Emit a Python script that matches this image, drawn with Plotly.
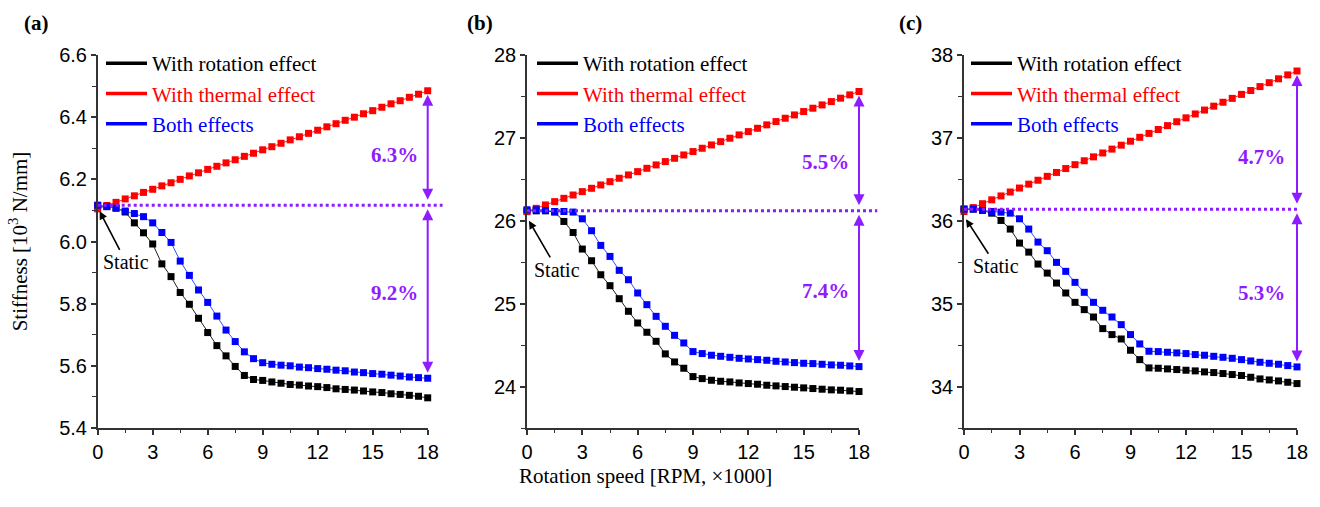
import plotly.graph_objects as go

# ---------------- data ----------------
speed_krpm = [0, 0.5, 1, 1.5, 2, 2.5, 3, 3.5, 4, 4.5, 5, 5.5, 6, 6.5, 7, 7.5, 8, 8.5, 9,
              9.5, 10, 10.5, 11, 11.5, 12, 12.5, 13, 13.5, 14, 14.5, 15, 15.5, 16, 16.5,
              17, 17.5, 18]

# panel (a)
a_rotation = [6.115, 6.113, 6.108, 6.095, 6.060, 6.028, 5.992, 5.928, 5.887, 5.836, 5.798,
              5.753, 5.707, 5.665, 5.632, 5.598, 5.569, 5.556, 5.553, 5.548, 5.544, 5.540,
              5.538, 5.535, 5.533, 5.530, 5.526, 5.524, 5.522, 5.519, 5.516, 5.514, 5.510,
              5.508, 5.505, 5.502, 5.497]
a_thermal = [6.105, 6.116, 6.126, 6.137, 6.147, 6.158, 6.168, 6.179, 6.189, 6.200, 6.211,
             6.221, 6.232, 6.242, 6.253, 6.263, 6.274, 6.284, 6.295, 6.305, 6.316, 6.327,
             6.337, 6.348, 6.358, 6.369, 6.379, 6.390, 6.400, 6.411, 6.421, 6.432, 6.443,
             6.453, 6.464, 6.474, 6.485]
a_both = [6.117, 6.112, 6.107, 6.098, 6.090, 6.080, 6.060, 6.029, 5.997, 5.937, 5.891,
          5.844, 5.804, 5.760, 5.715, 5.678, 5.645, 5.623, 5.610, 5.605, 5.602, 5.600,
          5.596, 5.594, 5.591, 5.589, 5.586, 5.584, 5.580, 5.578, 5.575, 5.573, 5.570,
          5.567, 5.564, 5.562, 5.560]

# panel (b)
b_rotation = [26.120, 26.120, 26.120, 26.105, 25.992, 25.859, 25.659, 25.518, 25.349, 25.217,
              25.060, 24.908, 24.767, 24.655, 24.546, 24.394, 24.297, 24.221, 24.120, 24.096,
              24.076, 24.064, 24.056, 24.044, 24.036, 24.028, 24.016, 24.008, 24.000, 23.992,
              23.984, 23.976, 23.968, 23.960, 23.956, 23.948, 23.940]
b_thermal = [26.110, 26.150, 26.191, 26.231, 26.271, 26.311, 26.352, 26.392, 26.432, 26.472,
             26.513, 26.553, 26.593, 26.633, 26.674, 26.714, 26.754, 26.794, 26.835, 26.875,
             26.915, 26.955, 26.996, 27.036, 27.076, 27.116, 27.157, 27.197, 27.237, 27.277,
             27.318, 27.358, 27.398, 27.438, 27.479, 27.519, 27.560]
b_both = [26.133, 26.133, 26.124, 26.112, 26.112, 26.105, 26.024, 25.880, 25.703, 25.570,
          25.402, 25.289, 25.129, 24.988, 24.847, 24.727, 24.618, 24.526, 24.422, 24.398,
          24.378, 24.365, 24.353, 24.341, 24.333, 24.325, 24.317, 24.305, 24.297, 24.289,
          24.281, 24.277, 24.269, 24.261, 24.257, 24.249, 24.241]

# panel (c)
c_rotation = [36.141, 36.141, 36.124, 36.092, 36.004, 35.900, 35.731, 35.622, 35.478, 35.369,
              35.249, 35.129, 35.016, 34.928, 34.839, 34.699, 34.627, 34.574, 34.438, 34.325,
              34.225, 34.221, 34.213, 34.205, 34.197, 34.189, 34.177, 34.169, 34.157, 34.145,
              34.133, 34.112, 34.092, 34.080, 34.068, 34.052, 34.036]
c_thermal = [36.112, 36.159, 36.206, 36.253, 36.300, 36.347, 36.395, 36.442, 36.489, 36.536,
             36.583, 36.630, 36.677, 36.724, 36.771, 36.818, 36.865, 36.912, 36.960, 37.007,
             37.054, 37.101, 37.148, 37.195, 37.242, 37.289, 37.336, 37.383, 37.430, 37.477,
             37.525, 37.572, 37.619, 37.666, 37.713, 37.760, 37.807]
c_both = [36.141, 36.141, 36.124, 36.112, 36.104, 36.092, 36.024, 35.900, 35.743, 35.639,
          35.498, 35.390, 35.257, 35.137, 35.016, 34.920, 34.839, 34.747, 34.627, 34.514,
          34.426, 34.422, 34.414, 34.406, 34.398, 34.386, 34.378, 34.365, 34.353, 34.341,
          34.325, 34.309, 34.293, 34.281, 34.269, 34.253, 34.237]

static_ref = [6.117, 26.12, 36.14]
static_point = [6.100, 26.01, 36.03]
pct_increase = ["6.3%", "5.5%", "4.7%"]
pct_decrease = ["9.2%", "7.4%", "5.3%"]
panel_labels = ["(a)", "(b)", "(c)"]
series_names = ["With rotation effect", "With thermal effect", "Both effects"]

x_ticks = [0, 3, 6, 9, 12, 15, 18]
y_ranges = [[5.3999, 6.6001], [23.5, 28.0001], [33.5, 38.0001]]
y_dticks = [0.2, 1, 1]
y_minor = [0.1, 0.5, 0.5]
y_formats = [".1f", "d", "d"]

# ---------------- styling / layout ----------------
W, H = 1320, 507
SERIF = "Liberation Serif, Times New Roman, serif"
SANS = "Liberation Sans, Arial, sans-serif"
PURPLE = "#8F1CFF"
colors = ["#000000", "#FF0000", "#0000FF"]
line_colors = ["#222222", "#FF2020", "#3050FF"]

x_px = [(97.7, 427.7), (527.0, 859.0), (964.0, 1297.0)]
y_px = (55.0, 428.0)
ydom = [(H - y_px[1]) / H, (H - y_px[0]) / H]
legend_left_px = [101, 532, 966]
label_px = [36, 480, 910]
dotted_end = [1.045, 1.055, 1.0]  # fraction of x domain
pct_up_pos = [(16.2, 6.278), (16.16, 26.71), (16.1, 36.775)]
pct_dn_pos = [(16.2, 5.835), (16.2, 25.15), (16.1, 35.13)]
static_offset = [(27, 52), (29, 50), (31, 48)]

panels = [
    (a_rotation, a_thermal, a_both),
    (b_rotation, b_thermal, b_both),
    (c_rotation, c_thermal, c_both),
]

fig = go.Figure()
annotations = []
shapes = []
layout = dict(
    width=W, height=H,
    margin=dict(l=0, r=0, t=0, b=0),
    paper_bgcolor="white", plot_bgcolor="white",
    showlegend=True,
    template="none",
)

for p, series in enumerate(panels):
    sfx = "" if p == 0 else str(p + 1)
    xa, ya = "x" + sfx, "y" + sfx
    legend_id = "legend" + sfx
    for k, vals in enumerate(series):
        fig.add_trace(go.Scatter(
            x=speed_krpm, y=vals, xaxis=xa, yaxis=ya,
            mode="lines+markers",
            line=dict(color=line_colors[k], width=1),
            marker=dict(symbol="square", size=7, color=colors[k], line=dict(width=0)),
            cliponaxis=False, showlegend=False, name=series_names[k],
        ))
    # legend entries (thick line keys)
    for k in range(3):
        fig.add_trace(go.Scatter(
            x=[None], y=[None], xaxis=xa, yaxis=ya, mode="lines",
            line=dict(color=colors[k], width=3.5),
            name=f"<span style='color:{colors[k]}'>{series_names[k]}</span>",
            legend=legend_id, showlegend=True,
        ))
    layout[legend_id] = dict(
        x=legend_left_px[p] / W, xanchor="left",
        y=1 - 43 / H, yanchor="top",
        bgcolor="rgba(0,0,0,0)", borderwidth=0,
        font=dict(family=SERIF, size=21, color="black"),
        itemwidth=41, tracegroupgap=0,
    )

    axis_common = dict(
        showline=True, linecolor="#333333", linewidth=1.5,
        ticks="outside", ticklen=5, tickwidth=1.5, tickcolor="#333333",
        showgrid=False, zeroline=False,
        tickfont=dict(family=SANS, size=20, color="black"),
    )
    layout["xaxis" + sfx] = dict(
        axis_common,
        domain=[x_px[p][0] / W, x_px[p][1] / W],
        range=[0, 18], tickmode="array", tickvals=x_ticks,
        minor=dict(dtick=1.5, tick0=0, ticks="outside", ticklen=3, tickwidth=1.2,
                   tickcolor="#333333", showgrid=False),
        anchor=ya,
    )
    layout["yaxis" + sfx] = dict(
        axis_common,
        domain=ydom, range=y_ranges[p], dtick=y_dticks[p], tick0=0,
        tickformat=y_formats[p],
        minor=dict(dtick=y_minor[p], tick0=0, ticks="outside", ticklen=4, tickwidth=1.2,
                   tickcolor="#333333", showgrid=False),
        anchor=xa,
    )
    if p == 0:
        layout["yaxis"]["title"] = dict(
            text="Stiffness [10<sup>3</sup> N/mm]",
            font=dict(family=SERIF, size=21, color="black"),
            standoff=26,
        )

    # dotted reference line at the static stiffness
    shapes.append(dict(
        type="line", xref=xa + " domain", yref=ya,
        x0=0, x1=dotted_end[p], y0=static_ref[p], y1=static_ref[p],
        line=dict(color=PURPLE, width=3, dash="dot"), layer="above",
    ))

    thermal_end = series[1][-1]
    both_end = series[2][-1]
    arrow_common = dict(
        xref=xa, yref=ya, axref=xa, ayref=ya, text="", showarrow=True,
        arrowside="end+start", arrowhead=2, arrowsize=1.1, arrowwidth=2,
        arrowcolor=PURPLE, standoff=4, startstandoff=4,
    )
    annotations.append(dict(arrow_common, x=speed_krpm[-1], y=thermal_end,
                            ax=speed_krpm[-1], ay=static_ref[p]))
    annotations.append(dict(arrow_common, x=speed_krpm[-1], y=static_ref[p],
                            ax=speed_krpm[-1], ay=both_end))
    # percentage labels
    annotations.append(dict(
        xref=xa, yref=ya, x=pct_up_pos[p][0], y=pct_up_pos[p][1],
        xanchor="center", yanchor="middle",
        text=f"<b>{pct_increase[p]}</b>", showarrow=False,
        font=dict(family=SERIF, size=21, color=PURPLE),
    ))
    annotations.append(dict(
        xref=xa, yref=ya, x=pct_dn_pos[p][0], y=pct_dn_pos[p][1],
        xanchor="center", yanchor="middle",
        text=f"<b>{pct_decrease[p]}</b>", showarrow=False,
        font=dict(family=SERIF, size=21, color=PURPLE),
    ))
    # "Static" marker
    annotations.append(dict(
        xref=xa, yref=ya, x=0.08, y=static_point[p],
        ax=static_offset[p][0], ay=static_offset[p][1],
        text="Static", showarrow=True, arrowhead=2, arrowsize=1, arrowwidth=1.6,
        arrowcolor="black", standoff=1,
        font=dict(family=SERIF, size=20, color="black"),
    ))
    # panel label
    annotations.append(dict(
        xref="paper", yref="paper", x=label_px[p] / W, y=1 - 23 / H,
        xanchor="center", yanchor="middle",
        text=f"<b>{panel_labels[p]}</b>", showarrow=False,
        font=dict(family=SERIF, size=21, color="black"),
    ))

# shared x-axis title
annotations.append(dict(
    xref="paper", yref="paper", x=645 / W, y=1 - 476 / H,
    xanchor="center", yanchor="middle",
    text="Rotation speed [RPM, \u00d71000]", showarrow=False,
    font=dict(family=SERIF, size=21, color="black"),
))

layout["annotations"] = annotations
layout["shapes"] = shapes
fig.update_layout(**layout)

fig.write_html(
    "out.html",
    config={"displayModeBar": False},
    post_script="document.body.style.margin='0';document.body.style.overflow='hidden';",
)
